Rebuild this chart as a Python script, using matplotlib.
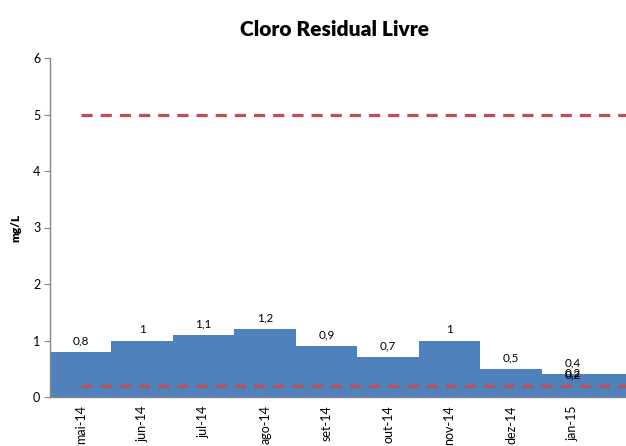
import matplotlib
matplotlib.use("Agg")
import matplotlib.pyplot as plt

months = ["mai-14", "jun-14", "jul-14", "ago-14", "set-14", "out-14", "nov-14", "dez-14", "jan-15", "fev-15"]
values = [0.8, 1.0, 1.1, 1.2, 0.9, 0.7, 1.0, 0.5, 0.4, 0.4]
vmax = [5] * len(months)
vmin = [0.2] * len(months)
value_labels = ["0,8", "1", "1,1", "1,2", "0,9", "0,7", "1", "0,5", "0,4", "0,4"]

plt.rcParams['font.family'] = ['Lato', 'DejaVu Sans']

fig = plt.figure(figsize=(6.26, 4.46), dpi=100)
W, H = 626, 446
ax = fig.add_axes([50 / W, 49 / H, (626 - 50) / W, (397 - 58) / H])

x = list(range(len(months)))
ax.bar(x, values, width=1.0, color="#4F81BD", zorder=2)
ax.plot(x, vmax, color="#C0504D", lw=2.3, dashes=(3.5, 2.5), zorder=3)
ax.plot(x, vmin, color="#C0504D", lw=2.3, dashes=(3.5, 2.5), zorder=3)

for xi, v, lab in zip(x, values, value_labels):
    ax.text(xi, v + 0.1, lab, ha="center", va="bottom", fontsize=8.5, clip_on=False)
# overlapping labels of the reference lines near jan-15
ax.text(8, 0.33, "0,2", ha="center", va="bottom", fontsize=8.5, clip_on=False)
ax.text(8, 0.29, "0,2", ha="center", va="bottom", fontsize=8.5, clip_on=False)

ax.set_xlim(-0.5, 8.87)
ax.set_ylim(0, 6)
ax.set_yticks(range(0, 7))
ax.set_xticks(x[:9])
ax.set_xticklabels(months[:9], rotation=90, fontsize=9)
ax.tick_params(axis="x", length=0, pad=6)
ax.tick_params(axis="y", length=4, color="#868686", labelsize=9, pad=3)

for s in ["top", "right"]:
    ax.spines[s].set_visible(False)
for s in ["left", "bottom"]:
    ax.spines[s].set_color("#868686")
    ax.spines[s].set_linewidth(1)

ax.set_ylabel("mg/L", fontsize=8.5, fontweight="heavy", labelpad=8)
fig.text(335 / W, 1 - 29 / H, "Cloro Residual Livre", ha="center", va="center",
         fontsize=15, fontweight="heavy")

fig.savefig("out.png", dpi=100)
